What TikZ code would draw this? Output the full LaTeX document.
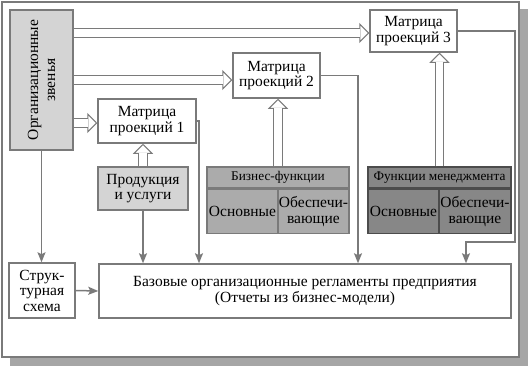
\documentclass[tikz,border=0pt]{standalone}
\usepackage{fontspec}
\setmainfont{Liberation Serif}
\usetikzlibrary{arrows.meta,calc}
\definecolor{lgray}{HTML}{7A7A7A}
\definecolor{shadowc}{HTML}{A6A6A6}
\definecolor{paleg}{HTML}{D4D4D4}
\definecolor{midg}{HTML}{ABABAB}
\definecolor{darkg}{HTML}{878787}
\begin{document}
\begin{tikzpicture}[x=1pt,y=-1pt,
  box/.style={draw=lgray,line width=1.5pt,fill=white,align=center,inner sep=1pt,
              font=\fontsize{15.5}{15.5}\selectfont},
  small/.style={font=\fontsize{13.3}{14}\selectfont},
  ln/.style={draw=lgray,line width=1.5pt},
  arr/.style={ln,-{Stealth[length=10pt,width=8pt,inset=2pt]}},
  hol/.style={draw=lgray,line width=1pt,double=white,double distance=7.5pt},
  hh/.style={draw=lgray,line width=1pt,-{Triangle[length=10pt,width=20pt,fill=white]}}]
\useasboundingbox (0,0) rectangle (530,368);
% frame with shadow
\fill[shadowc] (10,9) rectangle (528,366);
\draw[lgray,line width=2pt,fill=white] (2,2) rectangle (519,357);
% boxes
\node[box,fill=paleg,minimum width=63pt,minimum height=140pt] (org) at (41.5,80) {};
\node[rotate=90,align=center,font=\fontsize{15.5}{17}\selectfont] (orgt) at (org.center) {Организационные\\звенья};
\node[box,minimum width=98pt,minimum height=44pt] (m1) at (147,121) {Матрица\\проекций 1};
\node[box,minimum width=87pt,minimum height=45pt] (m2) at (276.5,75.5) {Матрица\\проекций 2};
\node[box,minimum width=87pt,minimum height=42pt] (m3) at (413.5,31) {Матрица\\проекций 3};
\node[box,fill=paleg,minimum width=90pt,minimum height=43pt] (prod) at (143,188.5) {Продукция\\и услуги};
\node[box,fill=midg,small,minimum width=142pt,minimum height=21pt] (bizh) at (278,177.5) {Бизнес-функции};
\node[box,fill=midg,minimum width=71pt,minimum height=44pt,anchor=north west] (bizl) at (bizh.south west) {Основные};
\node[box,fill=midg,minimum width=71pt,minimum height=44pt,anchor=north east] (bizr) at (bizh.south east) {Обеспечи-\\вающие};
\node[box,fill=darkg,draw=black!70,small,minimum width=143pt,minimum height=21pt] (mgh) at (439.5,177.5) {Функции менеджмента};
\node[box,fill=darkg,draw=black!70,minimum width=71pt,minimum height=44pt,anchor=north west] (mgl) at (mgh.south west) {Основные};
\node[box,fill=darkg,draw=black!70,minimum width=72pt,minimum height=44pt,anchor=north east] (mgr) at (mgh.south east) {Обеспечи-\\вающие};
\node[box,minimum width=66pt,minimum height=55pt] (struct) at (42,290.5) {Струк-\\турная\\схема};
\node[box,minimum width=412pt,minimum height=54pt] (base) at (305,291) {Базовые организационные регламенты предприятия\\(Отчеты из бизнес-модели)};
% hollow arrows
\coordinate (t3) at (m3.west |- 0,33);
\coordinate (t2) at (m2.west |- 0,80);
\coordinate (t1) at (m1.west |- 0,123);
\coordinate (u1) at (prod.north |- m1.south);
\coordinate (u2) at (bizh.north |- m2.south);
\coordinate (u3) at (mgh.north |- m3.south);
\draw[hh] ([xshift=-10pt]t3) -- (t3);
\draw[hh] ([xshift=-10pt]t2) -- (t2);
\draw[hh] ([xshift=-10pt]t1) -- (t1);
\draw[hh] ([yshift=-10pt]u1) -- (u1);
\draw[hh] ([yshift=-10pt]u2) -- (u2);
\draw[hh] ([yshift=-10pt]u3) -- (u3);
\draw[hol] (org.east |- t3) -- ([xshift=-9pt]t3);
\draw[hol] (org.east |- t2) -- ([xshift=-9pt]t2);
\draw[hol] (org.east |- t1) -- ([xshift=-9pt]t1);
\draw[hol] (prod.north) -- ([yshift=-9pt]u1);
\draw[hol] (bizh.north) -- ([yshift=-9pt]u2);
\draw[hol] (mgh.north) -- ([yshift=-9pt]u3);
% plain arrows
\coordinate (c1) at (199,0);
\coordinate (c2) at (358,0);
\coordinate (c3) at (515,242);
\coordinate (k3) at (466,0);
\draw[arr] (org.south) -- (org.south |- struct.north);
\draw[arr] (struct.east) -- (base.west);
\draw[arr] (prod.south) -- (prod.south |- base.north);
\draw[arr] (m1.east) -| (c1 |- base.north);
\draw[arr] (m2.east) -| (c2 |- base.north);
\draw[arr] (m3.east) -| (c3) -| (k3 |- base.north);
\end{tikzpicture}
\end{document}
